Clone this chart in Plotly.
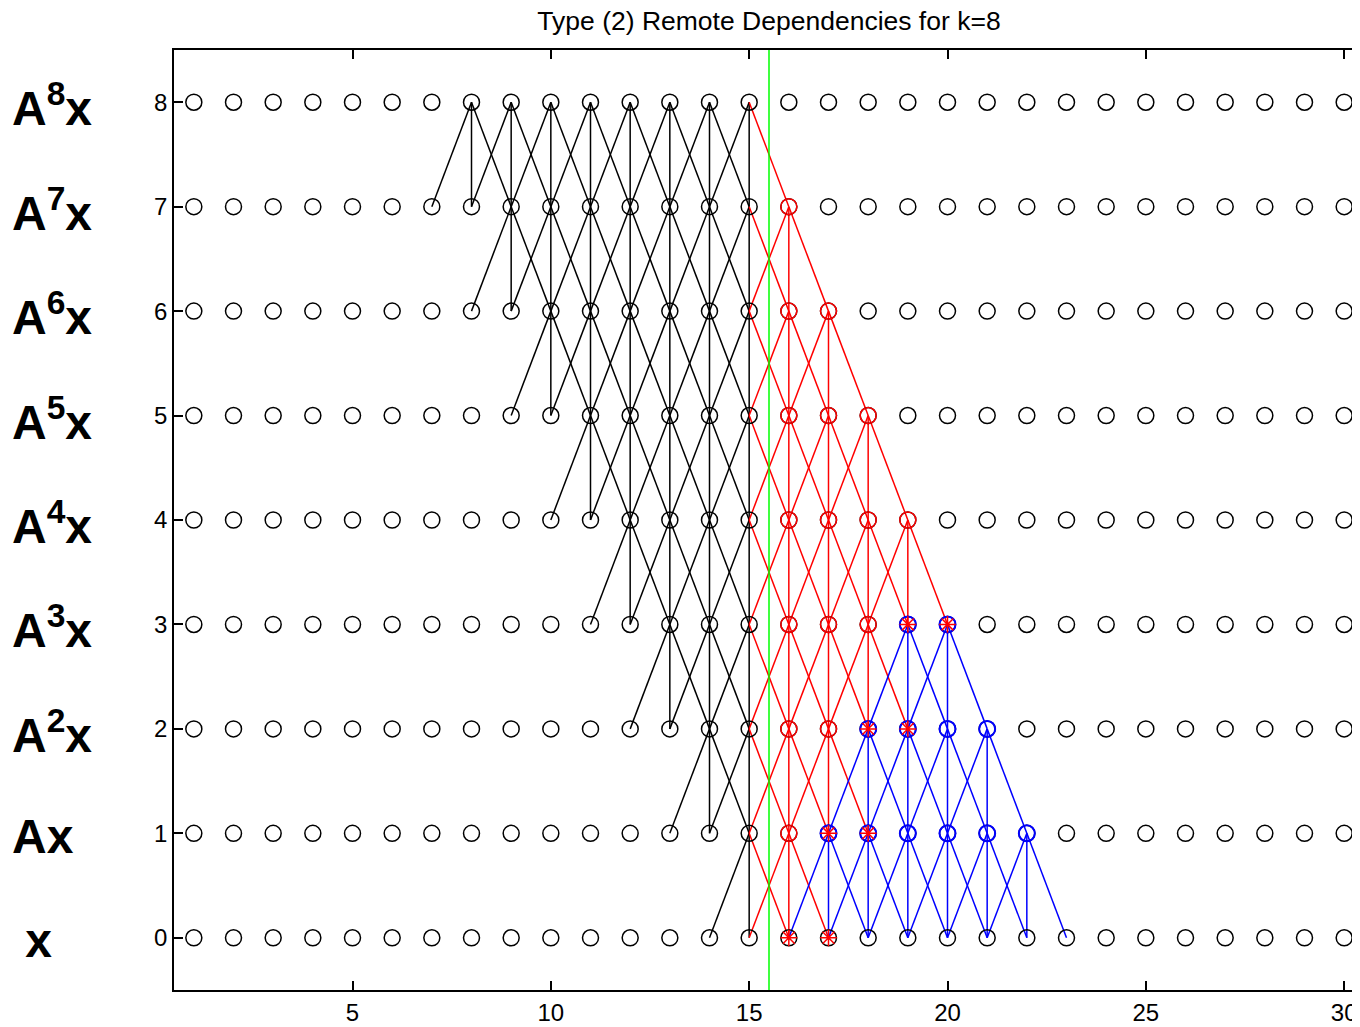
import plotly.graph_objects as go

# ---- data ----
columns = list(range(1, 31))          # grid columns (x)
levels = list(range(0, 9))            # powers 0..8 (y)
boundary = 15.5                       # green processor boundary
x_ticks = [5, 10, 15, 20, 25, 30]
row_labels = ["\u00a0x", "Ax", "A<sup>2</sup>x", "A<sup>3</sup>x", "A<sup>4</sup>x",
              "A<sup>5</sup>x", "A<sup>6</sup>x", "A<sup>7</sup>x", "A<sup>8</sup>x"]

# source points (level: columns) whose 3-point stencil edges are drawn
black_sources = {
    8: [8, 9, 10, 11, 12, 13, 14, 15],
    7: [9, 10, 11, 12, 13, 14, 15],
    6: [10, 11, 12, 13, 14, 15],
    5: [11, 12, 13, 14, 15],
    4: [12, 13, 14, 15],
    3: [13, 14, 15],
    2: [14, 15],
    1: [15],
}
red_sources = {
    7: [16],
    6: [16, 17],
    5: [16, 17, 18],
    4: [16, 17, 18, 19],
    3: [16, 17, 18],
    2: [16, 17],
    1: [16],
}
blue_sources = {
    3: [19, 20],
    2: [18, 19, 20, 21],
    1: [17, 18, 19, 20, 21, 22],
}
stencil = [-1, 0, 1]
star_x = [19, 20, 18, 19, 17, 18, 16, 17]
star_y = [3, 3, 2, 2, 1, 1, 0, 0]

# ---- build edge polylines ----
def edges(sources, remote_split=None):
    lx, ly, rx, ry = [], [], [], []
    for lev, cols in sources.items():
        for c in cols:
            for d in stencil:
                t = c + d
                if remote_split is not None and t > remote_split:
                    rx += [c, t, None]; ry += [lev, lev - 1, None]
                else:
                    lx += [c, t, None]; ly += [lev, lev - 1, None]
    return lx, ly, rx, ry

bx, by, bx_r, by_r = edges(black_sources, remote_split=boundary)
rx, ry, _, _ = edges(red_sources)
ux, uy, _, _ = edges(blue_sources)

FONT = "Liberation Sans, Arial, Helvetica, sans-serif"
LW = 1.5
fig = go.Figure()
fig.add_trace(go.Scatter(x=bx, y=by, mode="lines", line=dict(color="black", width=LW), hoverinfo="skip"))
fig.add_trace(go.Scatter(x=bx_r + rx, y=by_r + ry, mode="lines", line=dict(color="#ff0000", width=LW), hoverinfo="skip"))
fig.add_trace(go.Scatter(x=ux, y=uy, mode="lines", line=dict(color="#0000ff", width=LW), hoverinfo="skip"))
fig.add_trace(go.Scatter(x=[boundary, boundary], y=[-0.5, 8.5], mode="lines",
                         line=dict(color="#00ff00", width=LW), hoverinfo="skip"))

gx = [c for lv in levels for c in columns]
gy = [lv for lv in levels for c in columns]
MS = 16
fig.add_trace(go.Scatter(x=gx, y=gy, mode="markers",
                         marker=dict(symbol="circle-open", size=MS, color="black", line=dict(width=LW))))
rcx = [c for lv, cols in red_sources.items() for c in cols]
rcy = [lv for lv, cols in red_sources.items() for c in cols]
fig.add_trace(go.Scatter(x=rcx, y=rcy, mode="markers",
                         marker=dict(symbol="circle-open", size=MS, color="#ff0000", line=dict(width=LW))))
ucx = [c for lv, cols in blue_sources.items() for c in cols]
ucy = [lv for lv, cols in blue_sources.items() for c in cols]
fig.add_trace(go.Scatter(x=ucx, y=ucy, mode="markers",
                         marker=dict(symbol="circle-open", size=MS, color="#0000ff", line=dict(width=LW + 0.5))))
fig.add_trace(go.Scatter(x=star_x, y=star_y, mode="markers",
                         marker=dict(symbol="asterisk-open", size=14, color="#ff0000", line=dict(width=LW, color="#ff0000"))))

# page has an 8px body margin: the figure is laid out so the plot sits at page px 174..1364, 50..990
PLOT_W = 1190
for lv, lab in zip(levels, row_labels):
    fig.add_annotation(x=(10 - 174) / PLOT_W, xref="paper", y=lv, yref="y", xanchor="left", yanchor="middle",
                       text="<b>" + lab + "</b>", showarrow=False, yshift=-3,
                       font=dict(family=FONT, size=48, color="black"))

axis_common = dict(showline=True, linecolor="black", linewidth=1.5, mirror="ticks", ticks="inside",
                   ticklen=9, tickwidth=1.5, tickcolor="black", showgrid=False, zeroline=False,
                   tickfont=dict(family=FONT, size=24, color="black"), automargin=False)

fig.update_layout(
    width=166 + PLOT_W, height=1019,
    margin=dict(l=166, r=0, t=42, b=37),
    paper_bgcolor="white", plot_bgcolor="white",
    showlegend=False,
    title=dict(text="Type (2) Remote Dependencies for k=8", x=0.5, xref="paper", xanchor="center",
               y=1 - 13 / 1019, yref="container", yanchor="middle",
               font=dict(family=FONT, size=26.5, color="black")),
    xaxis=dict(range=[0.5, 30.5], tickvals=x_ticks, **axis_common),
    yaxis=dict(range=[-0.5, 8.5], tickvals=levels, **axis_common),
)
fig.write_html("out.html")
